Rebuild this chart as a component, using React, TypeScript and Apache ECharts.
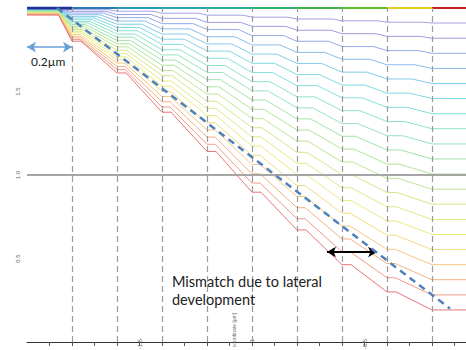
import React, { useEffect, useRef } from 'react';
import * as echarts from 'echarts';

// x positions of the segment starts (µm), last entry is the right end
const segmentStarts = [-2.0, -1.8, -1.6, -1.4, -1.2, -1.0, -0.8, -0.6, -0.4, -0.2];
const xEnd = 0.0;
const dividerX = [-1.8, -1.6, -1.4, -1.2, -1.0, -0.8, -0.6, -0.4, -0.2];
const topLevel = 2.0;
const topColors = ['#1f3396', '#2a78b8', '#2a9ab8', '#2aa6b0', '#2aae9a', '#34b070', '#3cb44a', '#5cc030', '#e2d022', '#c82222'];

// contour heights (µm) in each of the 10 segments, one row per development step
const contourLevels: number[][] = [
  [1.998, 1.990, 1.981, 1.969, 1.957, 1.945, 1.934, 1.923, 1.915, 1.910],
  [1.996, 1.980, 1.961, 1.938, 1.914, 1.890, 1.867, 1.846, 1.830, 1.819],
  [1.994, 1.970, 1.942, 1.906, 1.871, 1.835, 1.801, 1.769, 1.745, 1.729],
  [1.992, 1.960, 1.922, 1.875, 1.828, 1.779, 1.734, 1.693, 1.660, 1.638],
  [1.990, 1.950, 1.903, 1.844, 1.785, 1.724, 1.668, 1.616, 1.575, 1.548],
  [1.988, 1.940, 1.883, 1.813, 1.742, 1.669, 1.601, 1.539, 1.490, 1.458],
  [1.985, 1.930, 1.864, 1.782, 1.699, 1.614, 1.535, 1.462, 1.405, 1.367],
  [1.983, 1.920, 1.844, 1.750, 1.656, 1.559, 1.468, 1.385, 1.320, 1.277],
  [1.981, 1.911, 1.825, 1.719, 1.614, 1.504, 1.402, 1.308, 1.235, 1.186],
  [1.979, 1.901, 1.806, 1.688, 1.571, 1.449, 1.336, 1.232, 1.150, 1.096],
  [1.977, 1.891, 1.786, 1.657, 1.528, 1.393, 1.269, 1.155, 1.065, 1.006],
  [1.975, 1.881, 1.767, 1.626, 1.485, 1.338, 1.203, 1.078, 0.980, 0.915],
  [1.973, 1.871, 1.747, 1.595, 1.442, 1.283, 1.136, 1.001, 0.895, 0.825],
  [1.971, 1.861, 1.728, 1.563, 1.399, 1.228, 1.070, 0.924, 0.810, 0.734],
  [1.969, 1.851, 1.708, 1.532, 1.356, 1.173, 1.003, 0.847, 0.725, 0.644],
  [1.967, 1.841, 1.689, 1.501, 1.313, 1.118, 0.937, 0.771, 0.640, 0.554],
  [1.965, 1.831, 1.670, 1.470, 1.270, 1.063, 0.871, 0.694, 0.555, 0.463],
  [1.963, 1.821, 1.650, 1.439, 1.227, 1.007, 0.804, 0.617, 0.470, 0.373],
  [1.960, 1.811, 1.631, 1.407, 1.184, 0.952, 0.738, 0.540, 0.385, 0.282],
  [1.958, 1.801, 1.611, 1.376, 1.141, 0.897, 0.671, 0.463, 0.300, 0.192],
];
// fraction of each segment that stays flat before the step down
const contourKnee = [0.8, 0.75, 0.7, 0.62, 0.55, 0.5, 0.45, 0.4, 0.35, 0.3, 0.27, 0.24, 0.22, 0.2, 0.2, 0.18, 0.18, 0.18, 0.18, 0.2];
const firstSegmentKnee = 0.7;
const contourColors = ['#a4a0e4', '#9c9ee6', '#94aae8', '#8cbcea', '#84cce8', '#80d8e2', '#86e0da', '#8ee2cc', '#98e2bc', '#a4e2aa',
  '#b0e49c', '#c0e692', '#d0e88a', '#e0ea84', '#ecea80', '#f2dc82', '#f2c882', '#f2b084', '#f09a8a', '#e87474'];

const xTickLabels = [-1.5, -1.0, -0.5];
const yTickLabels = [0.5, 1.0, 1.5];
const designLine = [[-1.867, 2.0], [-0.12, 0.2]];
const mismatchArrow = [[-0.667, 0.539], [-0.444, 0.539]];
const scaleArrow = [[-2.0, 1.766], [-1.8, 1.766]];

export default function App() {
  const ref = useRef<HTMLDivElement>(null);
  useEffect(() => {
    if (!ref.current) return;
    const chart = echarts.init(ref.current, null, { renderer: 'svg' });
    const segW = 0.2;
    const series: any[] = [];

    contourLevels.forEach((levels, i) => {
      const pts: number[][] = [];
      for (let j = 0; j < levels.length - 1; j++) {
        const k = j === 0 ? firstSegmentKnee : contourKnee[i];
        pts.push([segmentStarts[j], levels[j]]);
        pts.push([segmentStarts[j] + k * segW, levels[j]]);
      }
      pts.push([segmentStarts[levels.length - 1], levels[levels.length - 1]]);
      pts.push([xEnd, levels[levels.length - 1]]);
      series.push({
        type: 'line', data: pts, showSymbol: false, silent: true, z: 2,
        lineStyle: { color: contourColors[i], width: 1 },
      });
    });

    segmentStarts.forEach((s, j) => {
      const e = j + 1 < segmentStarts.length ? segmentStarts[j + 1] : xEnd;
      series.push({
        type: 'line', data: [[s, topLevel], [e, topLevel]], showSymbol: false, silent: true, z: 3,
        lineStyle: { color: topColors[j], width: j === 0 ? 3 : 2 },
      });
    });

    series.push({
      type: 'line', data: [], silent: true, z: 4,
      markLine: {
        silent: true, symbol: ['none', 'none'], animation: false, label: { show: false },
        data: [
          ...dividerX.map((x) => ({ xAxis: x, lineStyle: { color: '#9a9a9a', width: 1.2, type: [6, 4] } })),
          { yAxis: 1.0, lineStyle: { color: '#a6a6a6', width: 2, type: 'solid' } },
        ],
      },
    });

    series.push({
      type: 'line', data: designLine, showSymbol: false, silent: true, z: 5,
      lineStyle: { color: '#4f81bd', width: 2.5, type: [7, 5] },
    });

    series.push({
      type: 'line', data: [], silent: true, z: 6,
      markLine: {
        silent: true, symbol: ['arrow', 'arrow'], symbolSize: [8, 9], animation: false, label: { show: false },
        data: [
          [{ coord: mismatchArrow[0], lineStyle: { color: '#000', width: 2, type: 'solid' }, itemStyle: { color: '#000' } }, { coord: mismatchArrow[1] }],
          [{ coord: scaleArrow[0], lineStyle: { color: '#6a9fd8', width: 1.5, type: 'solid' }, itemStyle: { color: '#6a9fd8' } }, { coord: scaleArrow[1] }],
        ],
      },
    });

    const near = (v: number, arr: number[]) => arr.some((a) => Math.abs(a - v) < 1e-6);

    chart.setOption({
      animation: false,
      backgroundColor: '#ffffff',
      grid: { left: 27, right: -11, top: 8, bottom: 8, containLabel: false, outerBoundsMode: 'none' },
      xAxis: {
        type: 'value', min: -2.0, max: 0, interval: 0.1,
        axisLine: { lineStyle: { color: '#333', width: 1 } },
        axisTick: { show: true, length: 4, lineStyle: { color: '#555' } },
        splitLine: { show: false },
        axisLabel: {
          rotate: 90, fontSize: 6, color: '#666', margin: -3,
          showMinLabel: false, showMaxLabel: false,
          formatter: (v: number) => (near(v, xTickLabels) ? String(Math.round(v * 10) / 10) : ''),
        },
      },
      yAxis: {
        type: 'value', min: 0, max: 2.0, interval: 0.1,
        axisLine: { show: true, lineStyle: { color: '#333', width: 1.2 } },
        axisTick: { show: true, length: 3, lineStyle: { color: '#555' } },
        splitLine: { show: false },
        axisLabel: {
          rotate: 90, fontSize: 6, color: '#666', margin: 6,
          formatter: (v: number) => (near(v, yTickLabels) ? v.toFixed(1) : ''),
        },
      },
      graphic: [
        { type: 'text', left: 172, top: 272, z: 10, style: { text: 'Mismatch due to lateral\ndevelopment', font: '14.5px Lato', fill: '#222', lineHeight: 18 } },
        { type: 'text', left: 31, top: 55, z: 10, style: { text: '0.2µm', font: '12px Lato', fill: '#222' } },
        { type: 'text', x: 234, y: 330, rotation: Math.PI / 2, z: 10, style: { text: 'coordinate [µm]', font: '5px sans-serif', fill: '#777', align: 'center', verticalAlign: 'middle' } },
      ],
      series,
    });
    return () => chart.dispose();
  }, []);
  return <div ref={ref} style={{ position: 'fixed', left: 0, top: 0, width: 466, height: 350, background: '#fff' }} />;
}
